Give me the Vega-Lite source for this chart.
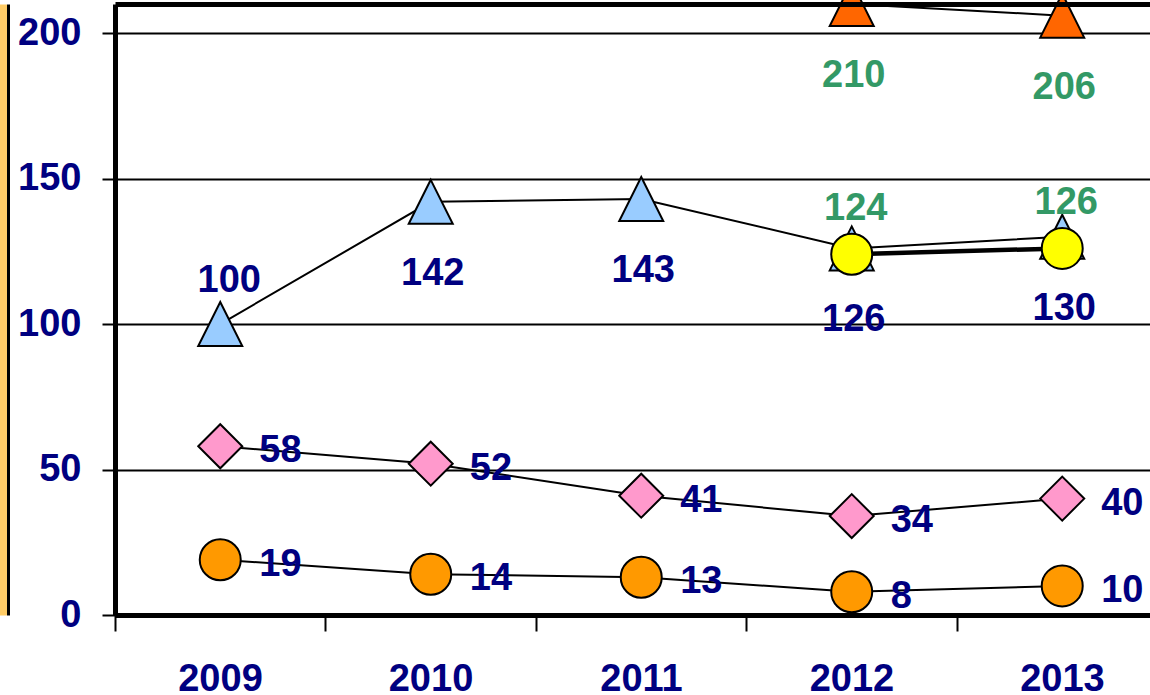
{
  "$schema": "https://vega.github.io/schema/vega-lite/v6.json",
  "width": 1035,
  "height": 611,
  "autosize": {"type": "none"},
  "padding": {"left": 115, "top": 4, "right": 0, "bottom": 80},
  "background": "white",
  "config": {"view": {"stroke": null}, "font": "Liberation Sans"},
  "data": {
    "values": [
      {"series": "s1", "year": 2009, "value": 100},
      {"series": "s1", "year": 2010, "value": 142},
      {"series": "s1", "year": 2011, "value": 143},
      {"series": "s1", "year": 2012, "value": 126},
      {"series": "s1", "year": 2013, "value": 130},
      {"series": "s2", "year": 2012, "value": 124},
      {"series": "s2", "year": 2013, "value": 126},
      {"series": "s3", "year": 2012, "value": 210},
      {"series": "s3", "year": 2013, "value": 206},
      {"series": "s4", "year": 2009, "value": 58},
      {"series": "s4", "year": 2010, "value": 52},
      {"series": "s4", "year": 2011, "value": 41},
      {"series": "s4", "year": 2012, "value": 34},
      {"series": "s4", "year": 2013, "value": 40},
      {"series": "s5", "year": 2009, "value": 19},
      {"series": "s5", "year": 2010, "value": 14},
      {"series": "s5", "year": 2011, "value": 13},
      {"series": "s5", "year": 2012, "value": 8},
      {"series": "s5", "year": 2013, "value": 10}
    ]
  },
  "layer": [
    {
      "transform": [{"filter": "datum.series != 's2'"}],
      "mark": {"type": "line", "stroke": "black", "strokeWidth": 2},
      "encoding": {
        "x": {
          "field": "year", "type": "quantitative",
          "scale": {"domain": [2008.5, 2013.417], "nice": false, "zero": false},
          "axis": {
            "orient": "bottom", "title": null,
            "values": [2008.5, 2009.5, 2010.5, 2011.5, 2012.5],
            "labelExpr": "toString(datum.value + 0.5)",
            "labelOffset": 105, "labelFlush": false, "labelOverlap": false, "labelBound": false,
            "labelFont": "Liberation Sans", "labelFontWeight": "bold", "labelFontSize": 38, "labelColor": "#000080",
            "labelPadding": 29,
            "tickSize": 16, "tickWidth": 2, "tickColor": "black",
            "domainWidth": 5, "domainColor": "black", "grid": false
          }
        },
        "y": {
          "field": "value", "type": "quantitative",
          "scale": {"domain": [0, 210], "nice": false, "zero": true},
          "axis": {
            "orient": "left", "title": null,
            "values": [0, 50, 100, 150, 200],
            "labelFont": "Liberation Sans", "labelFontWeight": "bold", "labelFontSize": 38, "labelColor": "#000080",
            "labelPadding": 21,
            "tickSize": 13, "tickWidth": 2, "tickColor": "black",
            "domainWidth": 5, "domainColor": "black",
            "grid": true, "gridColor": "black", "gridWidth": 2, "gridOpacity": 1
          }
        },
        "detail": {"field": "series", "type": "nominal"}
      }
    },
    {
      "transform": [{"filter": "datum.series == 's2'"}],
      "mark": {"type": "line", "stroke": "black", "strokeWidth": 4.5},
      "encoding": {
        "x": {"field": "year", "type": "quantitative", "axis": null},
        "y": {"field": "value", "type": "quantitative", "axis": null}
      }
    },
    {
      "mark": {"type": "point", "filled": true, "stroke": "black", "strokeWidth": 2, "opacity": 1, "fillOpacity": 1},
      "encoding": {
        "x": {
          "field": "year", "type": "quantitative",
          "axis": {"orient": "top", "title": null, "labels": false, "ticks": false, "grid": false, "domainWidth": 5, "domainColor": "black", "zindex": 1}
        },
        "y": {
          "field": "value", "type": "quantitative",
          "axis": {"orient": "left", "title": null, "labels": false, "ticks": false, "grid": false, "offset": 112, "domainWidth": 7, "domainColor": "#FFCC66"}
        },
        "shape": {
          "field": "series", "type": "nominal",
          "scale": {"domain": ["s1", "s2", "s3", "s4", "s5"], "range": ["M0,-1L1,1L-1,1Z", "circle", "M0,-1L1,1L-1,1Z", "diamond", "circle"]},
          "legend": null
        },
        "fill": {
          "field": "series", "type": "nominal",
          "scale": {"domain": ["s1", "s2", "s3", "s4", "s5"], "range": ["#99CCFF", "#FFFF00", "#FF6600", "#FF99CC", "#FF9900"]},
          "legend": null
        },
        "size": {
          "field": "series", "type": "nominal",
          "scale": {"type": "ordinal", "domain": ["s1", "s2", "s3", "s4", "s5"], "range": [1936, 1681, 1936, 1936, 1681]},
          "legend": null
        }
      }
    },
    {
      "transform": [{"filter": "datum.series == 's1' && datum.year > 2009"}],
      "mark": {"type": "text", "font": "Liberation Sans", "fontWeight": "bold", "fontSize": 38, "color": "#000080", "align": "center", "baseline": "middle", "dx": 2, "dy": 72},
      "encoding": {
        "x": {"field": "year", "type": "quantitative", "axis": null},
        "y": {
          "field": "value", "type": "quantitative",
          "axis": {"orient": "left", "title": null, "labels": false, "ticks": false, "grid": false, "offset": 107, "domainWidth": 3, "domainColor": "black"}
        },
        "text": {"field": "value", "type": "quantitative", "format": "d"}
      }
    },
    {
      "transform": [{"filter": "datum.series == 's1' && datum.year == 2009"}],
      "mark": {"type": "text", "font": "Liberation Sans", "fontWeight": "bold", "fontSize": 38, "color": "#000080", "align": "center", "baseline": "middle", "dx": 9, "dy": -43},
      "encoding": {
        "x": {"field": "year", "type": "quantitative", "axis": null},
        "y": {"field": "value", "type": "quantitative", "axis": null},
        "text": {"field": "value", "type": "quantitative", "format": "d"}
      }
    },
    {
      "transform": [{"filter": "datum.series == 's4' || datum.series == 's5'"}],
      "mark": {"type": "text", "font": "Liberation Sans", "fontWeight": "bold", "fontSize": 38, "color": "#000080", "align": "left", "baseline": "middle", "dx": 39, "dy": 5},
      "encoding": {
        "x": {"field": "year", "type": "quantitative", "axis": null},
        "y": {"field": "value", "type": "quantitative", "axis": null},
        "text": {"field": "value", "type": "quantitative", "format": "d"}
      }
    },
    {
      "transform": [{"filter": "datum.series == 's3'"}],
      "mark": {"type": "text", "font": "Liberation Sans", "fontWeight": "bold", "fontSize": 38, "color": "#339966", "align": "center", "baseline": "middle", "dx": 2, "dy": 72},
      "encoding": {
        "x": {"field": "year", "type": "quantitative", "axis": null},
        "y": {"field": "value", "type": "quantitative", "axis": null},
        "text": {"field": "value", "type": "quantitative", "format": "d"}
      }
    },
    {
      "transform": [{"filter": "datum.series == 's2'"}],
      "mark": {"type": "text", "font": "Liberation Sans", "fontWeight": "bold", "fontSize": 38, "color": "#339966", "align": "center", "baseline": "middle", "dx": 4, "dy": -45},
      "encoding": {
        "x": {"field": "year", "type": "quantitative", "axis": null},
        "y": {"field": "value", "type": "quantitative", "axis": null},
        "text": {"field": "value", "type": "quantitative", "format": "d"}
      }
    }
  ],
  "resolve": {"axis": {"x": "independent", "y": "independent"}}
}
